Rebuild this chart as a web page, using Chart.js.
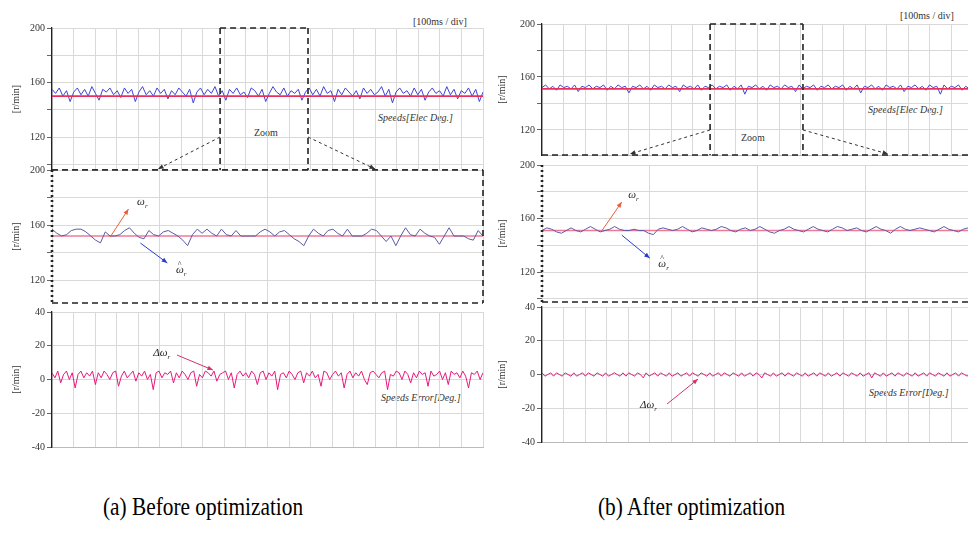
<!DOCTYPE html>
<html>
<head>
<meta charset="utf-8">
<script src="https://cdn.jsdelivr.net/npm/chart.js@4.4.0/dist/chart.umd.min.js"></script>
<style>
  body { margin:0; width:968px; height:535px; overflow:hidden; background:#fff; position:relative; font-family:"Liberation Serif", serif; }
  .box { position:absolute; }
  .caption { position:absolute; top:494px; font-size:26px; line-height:1; color:#000; white-space:nowrap; transform:scaleX(0.82); transform-origin:left top; }
  .note { position:absolute; font-size:10px; line-height:1; color:#333; white-space:nowrap; }
  .it { font-style:italic; }
</style>
</head>
<body>
<div class="note" style="left:413px; top:17px;">[100ms / div]</div>
<div class="note" style="left:900px; top:11px;">[100ms / div]</div>
<div class="note it" style="left:378px; top:113px;">Speeds[Elec Deg.]</div>
<div class="note it" style="left:868px; top:105px;">Speeds[Elec Deg.]</div>
<div class="note" style="left:254px; top:128px;">Zoom</div>
<div class="note" style="left:741px; top:133px;">Zoom</div>
<div class="note it" style="left:381px; top:393px;">Speeds Error[Deg.]</div>
<div class="note it" style="left:869px; top:388px;">Speeds Error[Deg.]</div>
<div class="caption" style="left:103px;">(a) Before optimization</div>
<div class="caption" style="left:598px;">(b) After optimization</div>

<script>
// grilla y etiquetas
const divisionsMs = [0,100,200,300,400,500,600,700,800,900,1000,1100,1200,1300,1400,1500,1600,1700,1800,1900,2000];
const zoomDivisionsMs = [0,100,200,300,400];
const speedGrid = [100,120,140,160,180,200];
const speedLabels = [120,160,200];
const errorGrid = [-40,-20,0,20,40];

// (a) antes de optimizar
const beforeReference = [150,150];
const beforeEstimated = [
  155,152,156,150,154,146,153,156,151,155,150,157,152,147,155,153,156,151,154,149,
  156,152,155,146,153,157,151,154,150,156,152,155,148,154,151,156,153,150,155,145,
  153,156,151,155,152,157,150,154,147,155,152,156,151,153,149,156,154,150,155,146,
  152,157,153,151,156,150,154,152,155,147,153,156,151,155,150,157,152,154,146,155,
  151,156,153,150,154,148,156,152,155,151,153,157,150,155,145,153,156,152,154,150,
  156,151,155,147,153,156,152,154,150,157,151,155,148,154,152,156,150,155,146,153
];
const beforeZoomReference = [152,152];
const beforeZoomEstimated = [
  157,154,152,153,156,157,157,155,152,149,147,155,152,152,153,156,158,154,151,150,
  156,153,152,155,156,154,152,149,145,153,157,154,157,154,152,157,153,152,156,152,
  152,152,152,155,157,155,152,155,156,153,150,148,145,152,157,154,152,156,157,154,
  152,157,152,152,152,154,157,156,152,148,152,145,152,158,153,152,157,154,152,151,
  146,152,158,152,152,152,150,149,156,152
];
const beforeError = [
  4,1,5,-2,3,5,0,4,-5,3,5,1,4,2,5,-3,4,1,5,3,
  0,4,5,-4,2,5,1,3,5,-1,4,2,5,0,3,-6,4,5,1,4,
  3,5,-2,4,1,5,3,0,4,5,-4,3,1,5,4,2,5,-1,3,4,
  5,0,4,-5,3,5,2,4,1,5,3,-3,4,5,0,4,2,5,-6,3,
  4,1,5,3,0,4,5,-2,4,2,5,1,3,-4,5,4,0,3,5,2,
  4,-5,3,5,1,4,2,5,0,-3,4,5,3,1,4,5,-6,3,2,5,
  4,0,5,3,-2,4,1,5,3,4,-4,5,2,3,5,0,4,-3,5,3,
  4,1,5,2,-5,4,3,5,0,4
];

// (b) después de optimizar
const afterReference = [151,151];
const afterEstimated = [
  152,154,151,153,150,154,152,153,151,154,149,153,152,154,151,153,152,154,150,153,
  151,154,152,153,148,153,152,154,151,153,150,154,152,153,151,154,152,153,149,154,
  152,153,151,154,150,153,152,154,151,153,152,154,150,153,151,154,147,153,152,154,
  151,153,150,154,152,153,151,154,152,153,149,154,151,153,152,154,150,153,152,154,
  151,153,152,154,150,153,151,154,148,153,152,154,151,153,150,154,152,153,151,154,
  149,153,152,154,151,153,150,154,152,153,147,154,151,153,152,154,150,153,151,154
];
const afterZoomReference = [151,151];
const afterZoomEstimated = [
  151,153,152,150,149,151,153,151,150,152,154,152,150,151,152,154,152,151,151,152,
  151,151,149,148,152,153,152,151,152,154,152,150,151,153,152,151,152,154,153,151,
  150,152,153,151,152,154,152,150,149,151,152,154,152,151,150,152,154,152,151,150,
  152,154,153,151,152,153,151,150,152,154,152,151,149,152,154,152,151,152,153,152,
  151,150,152,154,152,151,150,152,153,151
];
const afterError = [
  1,-1,0,1,-1,1,0,-1,1,0,-1,1,-1,0,1,-1,1,0,-1,1,
  0,-1,1,-1,0,1,0,-1,1,-1,1,0,-1,1,0,-2,1,-1,0,1,
  -1,1,0,-1,1,-1,0,1,-1,0,1,-1,1,0,-1,1,0,-1,1,-1,
  0,1,-1,1,0,-1,1,0,-1,1,-1,0,1,-1,1,0,-2,1,0,-1,
  1,-1,0,1,-1,1,0,-1,1,0,-1,1,-1,0,1,-1,1,0,-1,1,
  -1,0,1,-1,1,0,-1,1,0,-1,1,-1,0,1,-2,1,0,-1,1,-1,
  0,1,-1,1,0,-1,1,0,-1,1,-1,0,1,-1,1,0,-1,1,0,-1,
  1,-1,0,1,-1,1,0,-1,1,0
];

const gridColor = '#d9d9d9';
const refColor = '#e8305a';
const estColor = '#3d45d6';
const zoomRefColor = '#f07a95';
const zoomEstColor = '#5a5aa6';
const errColor = '#e8177e';
const serif = 'Liberation Serif';

// pasa un arreglo de valores a puntos {x,y} en ms
function toPoints(values, span) {
  return values.map((v, i) => ({ x: i * span / (values.length - 1), y: v }));
}

function arrow(ctx, x1, y1, x2, y2, color, dash) {
  ctx.save();
  ctx.strokeStyle = color;
  ctx.fillStyle = color;
  ctx.lineWidth = 1;
  ctx.setLineDash(dash || []);
  ctx.beginPath();
  ctx.moveTo(x1, y1);
  ctx.lineTo(x2, y2);
  ctx.stroke();
  const a = Math.atan2(y2 - y1, x2 - x1);
  ctx.setLineDash([]);
  ctx.beginPath();
  ctx.moveTo(x2, y2);
  ctx.lineTo(x2 - 6 * Math.cos(a - 0.4), y2 - 6 * Math.sin(a - 0.4));
  ctx.lineTo(x2 - 6 * Math.cos(a + 0.4), y2 - 6 * Math.sin(a + 0.4));
  ctx.closePath();
  ctx.fill();
  ctx.restore();
}

function symbol(ctx, x, y, main, sub, hat) {
  ctx.save();
  ctx.fillStyle = '#222';
  ctx.textBaseline = 'alphabetic';
  ctx.textAlign = 'left';
  ctx.font = 'italic 11px "' + serif + '"';
  ctx.fillText(main, x, y);
  const w = ctx.measureText(main).width;
  if (hat) {
    ctx.font = '8px "' + serif + '"';
    ctx.textAlign = 'center';
    ctx.fillText('^', x + w - 4, y - 6);
    ctx.textAlign = 'left';
  }
  ctx.font = 'italic 7px "' + serif + '"';
  ctx.fillText(sub, x + w, y + 3);
  ctx.restore();
}

function dashedLine(ctx, x1, y1, x2, y2, width, dash) {
  ctx.save();
  ctx.strokeStyle = '#222';
  ctx.lineWidth = width;
  ctx.setLineDash(dash);
  ctx.beginPath();
  ctx.moveTo(x1, y1);
  ctx.lineTo(x2, y2);
  ctx.stroke();
  ctx.restore();
}

// recuadro de zoom y flechas en la gráfica superior
function zoomBox(t0, t1, targets) {
  return chart => {
    const ctx = chart.ctx, a = chart.chartArea, x = chart.scales.x, y = chart.scales.y;
    const xa = x.getPixelForValue(t0), xb = x.getPixelForValue(t1);
    dashedLine(ctx, a.left, a.bottom, a.right, a.bottom, 1.6, [6, 4]);
    dashedLine(ctx, xa, a.top, xb, a.top, 1.6, [6, 4]);
    dashedLine(ctx, xa, a.top, xa, a.bottom, 1.6, [6, 4]);
    dashedLine(ctx, xb, a.top, xb, a.bottom, 1.6, [6, 4]);
    const yy = y.getPixelForValue(120);
    arrow(ctx, xa, yy, x.getPixelForValue(targets[0]), a.bottom - 1, '#333', [3, 3]);
    arrow(ctx, xb, yy, x.getPixelForValue(targets[1]), a.bottom - 1, '#333', [3, 3]);
  };
}

// marco punteado y etiquetas de la gráfica ampliada
function zoomFrame(drawTop, refArrow, estArrow) {
  return chart => {
    const ctx = chart.ctx, a = chart.chartArea, x = chart.scales.x, y = chart.scales.y;
    const px = (t, v) => [x.getPixelForValue(t), y.getPixelForValue(v)];
    if (drawTop) dashedLine(ctx, a.left, a.top, a.right, a.top, 1.6, [6, 4]);
    dashedLine(ctx, a.left, a.bottom, a.right, a.bottom, 1.6, [6, 4]);
    dashedLine(ctx, a.right, a.top, a.right, a.bottom, 1.6, [6, 4]);
    dashedLine(ctx, a.left, a.top, a.left, a.bottom, 2.6, [2, 3]);
    const r0 = px(refArrow[0], refArrow[1]), r1 = px(refArrow[2], refArrow[3]);
    arrow(ctx, r0[0], r0[1], r1[0], r1[1], '#e8603a');
    const rl = px(refArrow[4], refArrow[5]);
    symbol(ctx, rl[0], rl[1], 'ω', 'r', false);
    const e0 = px(estArrow[0], estArrow[1]), e1 = px(estArrow[2], estArrow[3]);
    arrow(ctx, e0[0], e0[1], e1[0], e1[1], '#2a3ccc');
    const el = px(estArrow[4], estArrow[5]);
    symbol(ctx, el[0], el[1], 'ω', 'r', true);
  };
}

function errorNote(note) {
  return chart => {
    const ctx = chart.ctx, x = chart.scales.x, y = chart.scales.y;
    const l = [x.getPixelForValue(note[4]), y.getPixelForValue(note[5])];
    symbol(ctx, l[0], l[1], 'Δω', 'r', false);
    arrow(ctx, x.getPixelForValue(note[0]), y.getPixelForValue(note[1]),
          x.getPixelForValue(note[2]), y.getPixelForValue(note[3]), '#d8306a');
  };
}

function makeChart(p) {
  const pad = 8;
  const div = document.createElement('div');
  div.className = 'box';
  div.style.left = (p.left - p.axisW) + 'px';
  div.style.top = (p.top - pad) + 'px';
  div.style.width = (p.axisW + p.w + 2) + 'px';
  div.style.height = (p.h + 2 * pad) + 'px';
  const canvas = document.createElement('canvas');
  div.appendChild(canvas);
  document.body.appendChild(div);
  return new Chart(canvas, {
    type: 'line',
    data: { datasets: p.datasets },
    options: {
      responsive: true,
      maintainAspectRatio: false,
      animation: false,
      layout: { padding: { top: pad, bottom: pad, left: 0, right: 2 } },
      plugins: { legend: { display: false }, tooltip: { enabled: false } },
      elements: { point: { radius: 0 }, line: { tension: 0, borderWidth: 1 } },
      scales: {
        x: {
          type: 'linear', min: 0, max: p.span,
          afterBuildTicks: s => { s.ticks = p.xGrid.map(v => ({ value: v })); },
          afterFit: s => { s.height = 0; },
          ticks: { display: false },
          grid: { color: gridColor, drawTicks: false },
          border: { display: !p.dashed, color: '#bbb' }
        },
        y: {
          min: p.yMin, max: p.yMax,
          afterBuildTicks: s => { s.ticks = p.yGrid.filter(v => v >= p.yMin && v <= p.yMax).map(v => ({ value: v })); },
          afterFit: s => { s.width = p.axisW; },
          ticks: {
            color: '#333', padding: 2,
            font: { family: serif, size: 10 },
            callback: v => p.yLabels.includes(v) ? String(v) : ''
          },
          grid: { color: gridColor, tickLength: 5, tickColor: '#666' },
          border: { display: !p.dashed, color: '#222', width: 1.3 },
          title: { display: true, text: '[r/min]', color: '#333', font: { family: serif, size: 10 }, padding: { top: 2, bottom: 0 } }
        }
      }
    },
    plugins: [{ id: 'extras', afterDatasetsDraw: c => { if (p.extras) p.extras(c); } }]
  });
}

// (a) antes
makeChart({
  left: 52, top: 28, w: 431, h: 142, axisW: 44, span: 2000,
  yMin: 95.8, yMax: 200, yGrid: speedGrid, yLabels: speedLabels, xGrid: divisionsMs,
  datasets: [
    { data: toPoints(beforeReference, 2000), borderColor: refColor, borderWidth: 1.6 },
    { data: toPoints(beforeEstimated, 2000), borderColor: estColor, borderWidth: 1 }
  ],
  extras: zoomBox(780, 1188, [492, 1499])
});
makeChart({
  left: 52, top: 170, w: 431, h: 133, axisW: 44, span: 400, dashed: true,
  yMin: 103.3, yMax: 200, yGrid: speedGrid, yLabels: speedLabels, xGrid: zoomDivisionsMs,
  datasets: [
    { data: toPoints(beforeZoomEstimated, 400), borderColor: zoomEstColor, borderWidth: 1 },
    { data: toPoints(beforeZoomReference, 400), borderColor: zoomRefColor, borderWidth: 1.4 }
  ],
  extras: zoomFrame(true, [54, 151.3, 71, 171.6, 79, 174.5], [82, 146.9, 107, 132.4, 115, 125])
});
makeChart({
  left: 52, top: 312, w: 431, h: 135, axisW: 44, span: 2000,
  yMin: -40, yMax: 40, yGrid: errorGrid, yLabels: errorGrid, xGrid: divisionsMs,
  datasets: [
    { data: toPoints(beforeError, 2000), borderColor: errColor, borderWidth: 1 }
  ],
  extras: errorNote([580, 14.5, 747, 5.6, 470, 14])
});

// (b) después
makeChart({
  left: 542, top: 24, w: 431, h: 131, axisW: 48, span: 2000,
  yMin: 101.1, yMax: 200, yGrid: speedGrid, yLabels: speedLabels, xGrid: divisionsMs,
  datasets: [
    { data: toPoints(afterReference, 2000), borderColor: refColor, borderWidth: 1.6 },
    { data: toPoints(afterEstimated, 2000), borderColor: estColor, borderWidth: 1 }
  ],
  extras: zoomBox(780, 1211, [408, 1606])
});
makeChart({
  left: 542, top: 165, w: 431, h: 137, axisW: 48, span: 400, dashed: true,
  yMin: 97.6, yMax: 200, yGrid: speedGrid, yLabels: speedLabels, xGrid: zoomDivisionsMs,
  datasets: [
    { data: toPoints(afterZoomEstimated, 400), borderColor: zoomEstColor, borderWidth: 1 },
    { data: toPoints(afterZoomReference, 400), borderColor: zoomRefColor, borderWidth: 1.4 }
  ],
  extras: zoomFrame(false, [56, 151.4, 74, 172.3, 80, 175], [74, 147.6, 100, 130.4, 108, 124])
});
makeChart({
  left: 542, top: 307, w: 431, h: 135, axisW: 48, span: 2000,
  yMin: -40, yMax: 40, yGrid: errorGrid, yLabels: errorGrid, xGrid: divisionsMs,
  datasets: [
    { data: toPoints(afterError, 2000), borderColor: errColor, borderWidth: 1 }
  ],
  extras: errorNote([580, -17.5, 724, -2.7, 455, -20])
});
</script>
</body>
</html>
